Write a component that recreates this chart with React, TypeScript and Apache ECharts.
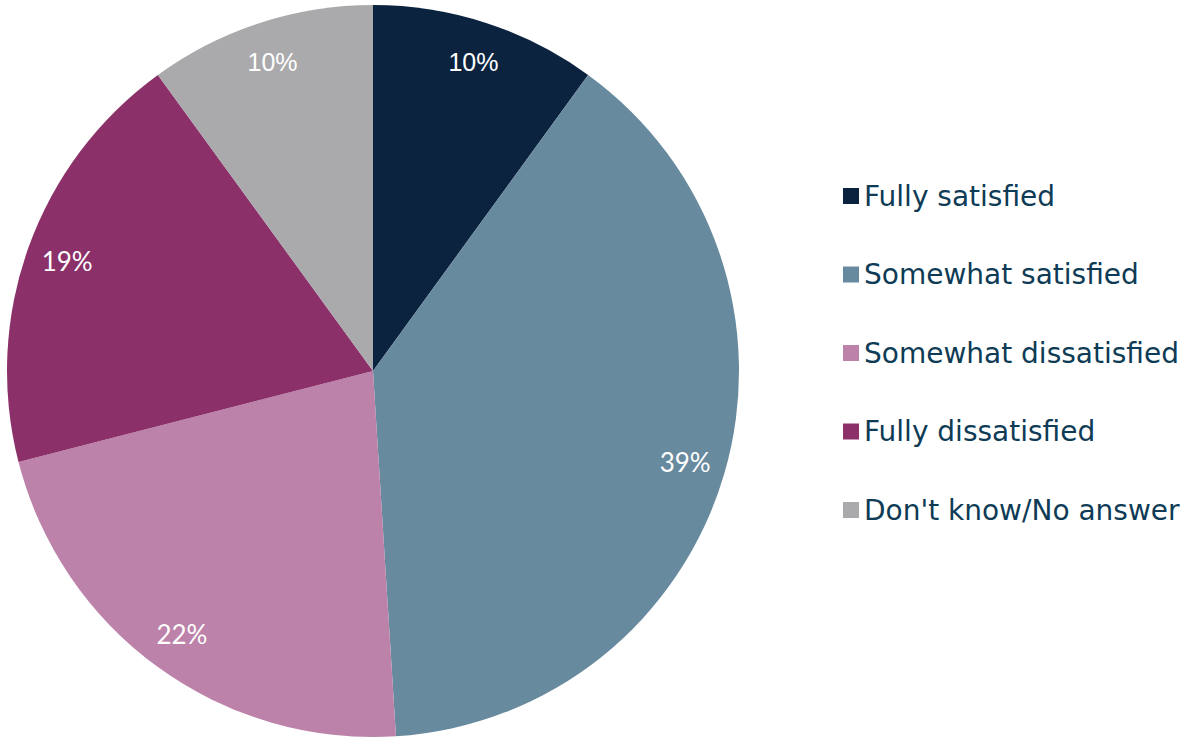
import React, { useEffect, useRef } from "react";
import * as echarts from "echarts";

const categories = [
  "Fully satisfied",
  "Somewhat satisfied",
  "Somewhat dissatisfied",
  "Fully dissatisfied",
  "Don't know/No answer",
];
const values = [10, 39, 22, 19, 10];
const colors = ["#0c2340", "#688a9e", "#bc82a9", "#8b3069", "#aaaaac"];
const labelFonts = ["Liberation Sans", "Lato", "Lato", "Lato", "Liberation Sans"];

export default function App() {
  const ref = useRef<HTMLDivElement>(null);
  useEffect(() => {
    if (!ref.current) return;
    const chart = echarts.init(ref.current, null, { renderer: "svg" });
    const R = 366;
    chart.setOption({
      animation: false,
      backgroundColor: "#ffffff",
      legend: {
        orient: "vertical",
        left: 838,
        top: 177,
        icon: "rect",
        itemWidth: 16,
        itemHeight: 16,
        itemGap: 50.5,
        data: categories,
        textStyle: {
          fontFamily: "DejaVu Sans",
          fontSize: 28,
          lineHeight: 28,
          color: "#0e3b55",
          padding: [0, 0, 0, 0],
        },
        selectedMode: false,
      },
      series: [
        {
          type: "pie",
          center: [373, 371],
          radius: [0, R],
          startAngle: 90,
          clockwise: true,
          silent: true,
          label: { show: false },
          labelLine: { show: false },
          data: categories.map((name, i) => ({
            name,
            value: values[i],
            itemStyle: { color: colors[i] },
          })),
        },
        {
          type: "pie",
          center: [373, 371],
          radius: [R * 0.76, R],
          startAngle: 90,
          clockwise: true,
          silent: true,
          itemStyle: { color: "transparent" },
          labelLine: { show: false },
          label: {
            show: true,
            position: "inside",
            color: "#ffffff",
            fontSize: 26,
          },
          data: categories.map((name, i) => ({
            name,
            value: values[i],
            label: {
              formatter: "{f|{c}%}",
              rich: {
                f: {
                  fontFamily: labelFonts[i],
                  fontSize: labelFonts[i] === "Lato" ? 26 : 25,
                  color: "#ffffff",
                },
              },
            },
          })),
        },
      ],
    });
    return () => chart.dispose();
  }, []);
  return (
    <div
      ref={ref}
      style={{ position: "fixed", left: 0, top: 0, width: 1186, height: 738 }}
    />
  );
}
